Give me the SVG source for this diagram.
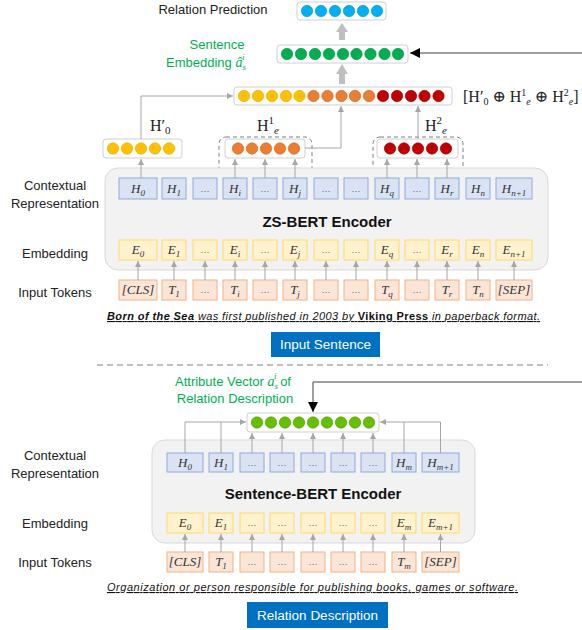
<svg xmlns="http://www.w3.org/2000/svg" width="582" height="630" viewBox="0 0 582 630">
<defs>
<style>
.lbl{font-family:"Liberation Sans",Arial,sans-serif;font-size:13px;fill:#222;text-anchor:middle}
.grn{fill:#00B050}
.enc{font-family:"Liberation Sans",Arial,sans-serif;font-size:15px;font-weight:bold;fill:#111;text-anchor:middle}
.m{font-family:"Liberation Serif","DejaVu Serif",serif;font-style:italic;font-size:13px;fill:#333;text-anchor:middle}
.s{font-size:9px}
.d{font-style:normal;font-size:9px}
.hm{font-family:"Liberation Serif","DejaVu Serif",serif;font-size:16px;fill:#222}
.hb{fill:#DAE3F3;stroke:#8FAADC;stroke-width:1}
.eb{fill:#FFF2CC;stroke:#FFD966;stroke-width:1}
.tb{fill:#FBE5D6;stroke:#F4B183;stroke-width:1}
.bg{fill:#F2F2F2;stroke:#D9D9D9;stroke-width:1}
.bar{fill:#fff;stroke:#D0D0D0;stroke-width:1}
.yl{fill:#FFC000;stroke:#E6A800;stroke-width:.6}
.or{fill:#ED7D31;stroke:#C9631C;stroke-width:.6}
.rd{fill:#C00000;stroke:#990000;stroke-width:.6}
.gr{fill:#00B050;stroke:#008C3E;stroke-width:.6}
.bl{fill:#00B0F0;stroke:#0090C8;stroke-width:.6}
.lg{fill:#66C000;stroke:#4C9400;stroke-width:.6}
.ar{stroke:#A6A6A6;stroke-width:1;fill:none;marker-end:url(#ga)}
.ln{stroke:#A6A6A6;stroke-width:1;fill:none}
.bk{stroke:#404040;stroke-width:1;fill:none;marker-end:url(#ba)}
.dash{fill:none;stroke:#808080;stroke-width:1;stroke-dasharray:4 3}
.btn{fill:#0070C0}
.bt{font-family:"Liberation Sans",Arial,sans-serif;font-size:13.5px;fill:#fff;text-anchor:middle}
.sent{font-family:"Liberation Sans",Arial,sans-serif;font-size:11px;font-style:italic;fill:#111;text-anchor:middle;text-decoration:underline}
.blk{fill:#BFBFBF}
</style>
<marker id="ga" markerWidth="6" markerHeight="6" refX="6" refY="3" orient="auto" markerUnits="userSpaceOnUse"><path d="M0,0 L6,3 L0,6 z" fill="#A6A6A6"/></marker>
<marker id="ba" markerWidth="10" markerHeight="10" refX="10" refY="5" orient="auto" markerUnits="userSpaceOnUse"><path d="M0,0 L10,5 L0,10 z" fill="#000"/></marker>
</defs>
<rect width="582" height="630" fill="#fff"/>

<!-- Side labels -->
<g id="labels">
<text class="lbl" x="213" y="14">Relation Prediction</text>
<text class="lbl grn" x="217" y="49">Sentence</text>
<text class="lbl grn" x="206" y="67">Embedding <tspan font-family="Liberation Serif,serif" font-style="italic" font-size="14">â</tspan><tspan font-family="Liberation Serif,serif" font-style="italic" font-size="9" dy="3">s</tspan><tspan font-family="Liberation Serif,serif" font-style="italic" font-size="9" dx="-4" dy="-10">i</tspan></text>
<text class="lbl" x="55" y="190">Contextual</text>
<text class="lbl" x="55" y="208">Representation</text>
<text class="lbl" x="55" y="258">Embedding</text>
<text class="lbl" x="55" y="297">Input Tokens</text>
<text class="lbl" x="55" y="460">Contextual</text>
<text class="lbl" x="55" y="478">Representation</text>
<text class="lbl" x="55" y="528">Embedding</text>
<text class="lbl" x="55" y="567">Input Tokens</text>
<text class="lbl grn" x="233" y="386">Attribute Vector <tspan font-family="Liberation Serif,serif" font-style="italic" font-size="14">a</tspan><tspan font-family="Liberation Serif,serif" font-style="italic" font-size="9" dy="3">s</tspan><tspan font-family="Liberation Serif,serif" font-style="italic" font-size="9" dx="-4" dy="-10">i</tspan><tspan dy="7"> of</tspan></text>
<text class="lbl grn" x="235" y="403">Relation Description</text>
<text class="hm" x="150" y="131">H′<tspan font-size="11" dy="3">0</tspan></text>
<text class="hm" x="257" y="131">H<tspan font-size="11" dy="-7">1</tspan><tspan font-size="11" font-style="italic" dy="10">e</tspan></text>
<text class="hm" x="425" y="131">H<tspan font-size="11" dy="-7">2</tspan><tspan font-size="11" font-style="italic" dy="10">e</tspan></text>
<text class="hm" x="463" y="102" font-size="15">[H′<tspan font-size="10" dy="3">0</tspan><tspan dy="-3"> ⊕ H</tspan><tspan font-size="10" dy="-6">1</tspan><tspan font-size="10" font-style="italic" dy="9">e</tspan><tspan dy="-3"> ⊕ H</tspan><tspan font-size="10" dy="-6">2</tspan><tspan font-size="10" font-style="italic" dy="9">e</tspan><tspan dy="-3">]</tspan></text>
</g>

<!-- Top output bars -->
<g id="relation-prediction">
<rect class="bar" x="297" y="2" width="89" height="18" rx="3"/>
<circle class="bl" cx="307" cy="11" r="5.7"/><circle class="bl" cx="321" cy="11" r="5.7"/><circle class="bl" cx="335" cy="11" r="5.7"/><circle class="bl" cx="349" cy="11" r="5.7"/><circle class="bl" cx="363" cy="11" r="5.7"/><circle class="bl" cx="377" cy="11" r="5.7"/>
</g>
<g id="sentence-embedding">
<rect class="bar" x="277" y="45" width="131" height="18" rx="3"/>
<circle class="gr" cx="287" cy="54" r="5.7"/><circle class="gr" cx="301" cy="54" r="5.7"/><circle class="gr" cx="315" cy="54" r="5.7"/><circle class="gr" cx="329" cy="54" r="5.7"/><circle class="gr" cx="343" cy="54" r="5.7"/><circle class="gr" cx="356.5" cy="54" r="5.7"/><circle class="gr" cx="370.5" cy="54" r="5.7"/><circle class="gr" cx="384.5" cy="54" r="5.7"/><circle class="gr" cx="398" cy="54" r="5.7"/>
</g>
<g id="concat">
<rect class="bar" x="234" y="87" width="218" height="18" rx="3"/>
<circle class="yl" cx="244" cy="96" r="5.7"/><circle class="yl" cx="258" cy="96" r="5.7"/><circle class="yl" cx="272" cy="96" r="5.7"/><circle class="yl" cx="286" cy="96" r="5.7"/><circle class="yl" cx="299.5" cy="96" r="5.7"/>
<circle class="or" cx="313.5" cy="96" r="5.7"/><circle class="or" cx="327.5" cy="96" r="5.7"/><circle class="or" cx="341.5" cy="96" r="5.7"/><circle class="or" cx="355" cy="96" r="5.7"/><circle class="or" cx="369" cy="96" r="5.7"/>
<circle class="rd" cx="383" cy="96" r="5.7"/><circle class="rd" cx="397" cy="96" r="5.7"/><circle class="rd" cx="411" cy="96" r="5.7"/><circle class="rd" cx="424.5" cy="96" r="5.7"/><circle class="rd" cx="438.5" cy="96" r="5.7"/>
</g>
<g id="h0prime">
<rect class="bar" x="103" y="139" width="79" height="19" rx="3"/>
<circle class="yl" cx="113" cy="148.5" r="5.7"/><circle class="yl" cx="127" cy="148.5" r="5.7"/><circle class="yl" cx="141" cy="148.5" r="5.7"/><circle class="yl" cx="155" cy="148.5" r="5.7"/><circle class="yl" cx="169" cy="148.5" r="5.7"/>
</g>
<g id="he1">
<rect class="dash" x="219" y="137" width="93" height="65" rx="7"/>
<rect class="bar" x="225" y="139" width="80" height="19" rx="3"/>
<circle class="or" cx="238" cy="148.5" r="5.7"/><circle class="or" cx="252" cy="148.5" r="5.7"/><circle class="or" cx="266" cy="148.5" r="5.7"/><circle class="or" cx="280" cy="148.5" r="5.7"/><circle class="or" cx="294" cy="148.5" r="5.7"/>
</g>
<g id="he2">
<rect class="dash" x="373" y="137" width="90" height="65" rx="7"/>
<rect class="bar" x="377" y="139" width="81" height="19" rx="3"/>
<circle class="rd" cx="390" cy="148.5" r="5.7"/><circle class="rd" cx="404" cy="148.5" r="5.7"/><circle class="rd" cx="418" cy="148.5" r="5.7"/><circle class="rd" cx="432" cy="148.5" r="5.7"/><circle class="rd" cx="446" cy="148.5" r="5.7"/>
</g>

<!-- ZS-BERT encoder -->
<g id="zs-bert">
<rect class="bg" x="105" y="168" width="443" height="102" rx="13"/>
<text class="enc" x="327" y="227">ZS-BERT Encoder</text>
<rect class="hb" x="119" y="178" width="38" height="21"/><text class="m" x="138" y="193">H<tspan class="s" dy="3">0</tspan></text>
<rect class="hb" x="162" y="178" width="24" height="21"/><text class="m" x="174" y="193">H<tspan class="s" dy="3">1</tspan></text>
<rect class="hb" x="193" y="178" width="24" height="21"/><text class="m d" x="205" y="192">…</text>
<rect class="hb" x="223" y="178" width="24" height="21"/><text class="m" x="235" y="193">H<tspan class="s" dy="3">i</tspan></text>
<rect class="hb" x="253" y="178" width="24" height="21"/><text class="m d" x="265" y="192">…</text>
<rect class="hb" x="283" y="178" width="24" height="21"/><text class="m" x="295" y="193">H<tspan class="s" dy="3">j</tspan></text>
<rect class="hb" x="314" y="178" width="24" height="21"/><text class="m d" x="326" y="192">…</text>
<rect class="hb" x="344" y="178" width="24" height="21"/><text class="m d" x="356" y="192">…</text>
<rect class="hb" x="375" y="178" width="24" height="21"/><text class="m" x="387" y="193">H<tspan class="s" dy="3">q</tspan></text>
<rect class="hb" x="405" y="178" width="24" height="21"/><text class="m d" x="417" y="192">…</text>
<rect class="hb" x="435" y="178" width="24" height="21"/><text class="m" x="447" y="193">H<tspan class="s" dy="3">r</tspan></text>
<rect class="hb" x="466" y="178" width="24" height="21"/><text class="m" x="478" y="193">H<tspan class="s" dy="3">n</tspan></text>
<rect class="hb" x="496" y="178" width="36" height="21"/><text class="m" x="514" y="193">H<tspan class="s" dy="3">n+1</tspan></text>

<rect class="eb" x="119" y="240" width="38" height="20"/><text class="m" x="138" y="254">E<tspan class="s" dy="3">0</tspan></text>
<rect class="eb" x="162" y="240" width="24" height="20"/><text class="m" x="174" y="254">E<tspan class="s" dy="3">1</tspan></text>
<rect class="eb" x="193" y="240" width="24" height="20"/><text class="m d" x="205" y="253">…</text>
<rect class="eb" x="223" y="240" width="24" height="20"/><text class="m" x="235" y="254">E<tspan class="s" dy="3">i</tspan></text>
<rect class="eb" x="253" y="240" width="24" height="20"/><text class="m d" x="265" y="253">…</text>
<rect class="eb" x="283" y="240" width="24" height="20"/><text class="m" x="295" y="254">E<tspan class="s" dy="3">j</tspan></text>
<rect class="eb" x="314" y="240" width="24" height="20"/><text class="m d" x="326" y="253">…</text>
<rect class="eb" x="344" y="240" width="24" height="20"/><text class="m d" x="356" y="253">…</text>
<rect class="eb" x="375" y="240" width="24" height="20"/><text class="m" x="387" y="254">E<tspan class="s" dy="3">q</tspan></text>
<rect class="eb" x="405" y="240" width="24" height="20"/><text class="m d" x="417" y="253">…</text>
<rect class="eb" x="435" y="240" width="24" height="20"/><text class="m" x="447" y="254">E<tspan class="s" dy="3">r</tspan></text>
<rect class="eb" x="466" y="240" width="24" height="20"/><text class="m" x="478" y="254">E<tspan class="s" dy="3">n</tspan></text>
<rect class="eb" x="496" y="240" width="36" height="20"/><text class="m" x="514" y="254">E<tspan class="s" dy="3">n+1</tspan></text>
</g>

<g id="input-tokens-top">
<rect class="tb" x="119" y="280" width="38" height="20"/><text class="m" x="138" y="294">[CLS]</text>
<rect class="tb" x="162" y="280" width="24" height="20"/><text class="m" x="174" y="294">T<tspan class="s" dy="3">1</tspan></text>
<rect class="tb" x="193" y="280" width="24" height="20"/><text class="m d" x="205" y="293">…</text>
<rect class="tb" x="223" y="280" width="24" height="20"/><text class="m" x="235" y="294">T<tspan class="s" dy="3">i</tspan></text>
<rect class="tb" x="253" y="280" width="24" height="20"/><text class="m d" x="265" y="293">…</text>
<rect class="tb" x="283" y="280" width="24" height="20"/><text class="m" x="295" y="294">T<tspan class="s" dy="3">j</tspan></text>
<rect class="tb" x="314" y="280" width="24" height="20"/><text class="m d" x="326" y="293">…</text>
<rect class="tb" x="344" y="280" width="24" height="20"/><text class="m d" x="356" y="293">…</text>
<rect class="tb" x="375" y="280" width="24" height="20"/><text class="m" x="387" y="294">T<tspan class="s" dy="3">q</tspan></text>
<rect class="tb" x="405" y="280" width="24" height="20"/><text class="m d" x="417" y="293">…</text>
<rect class="tb" x="435" y="280" width="24" height="20"/><text class="m" x="447" y="294">T<tspan class="s" dy="3">r</tspan></text>
<rect class="tb" x="466" y="280" width="24" height="20"/><text class="m" x="478" y="294">T<tspan class="s" dy="3">n</tspan></text>
<rect class="tb" x="496" y="280" width="36" height="20"/><text class="m" x="514" y="294">[SEP]</text>
</g>

<g id="input-sentence">
<text class="sent" x="323.5" y="320" textLength="433" lengthAdjust="spacing"><tspan font-weight="bold">Born of the Sea</tspan> was first published in 2003 by <tspan font-weight="bold" font-style="normal">Viking Press</tspan> in paperback format.</text>
<rect class="btn" x="271" y="332" width="109" height="25"/>
<text class="bt" x="325.5" y="349">Input Sentence</text>
</g>

<line x1="97" y1="365" x2="548" y2="365" stroke="#808080" stroke-width="1.2" stroke-dasharray="6 4"/>

<!-- Sentence-BERT -->
<g id="attribute-vector">
<rect class="bar" x="247" y="413" width="132" height="19" rx="3"/>
<circle class="lg" cx="257" cy="422.5" r="5.7"/><circle class="lg" cx="271" cy="422.5" r="5.7"/><circle class="lg" cx="285" cy="422.5" r="5.7"/><circle class="lg" cx="299" cy="422.5" r="5.7"/><circle class="lg" cx="313" cy="422.5" r="5.7"/><circle class="lg" cx="327" cy="422.5" r="5.7"/><circle class="lg" cx="341" cy="422.5" r="5.7"/><circle class="lg" cx="355" cy="422.5" r="5.7"/><circle class="lg" cx="369" cy="422.5" r="5.7"/>
</g>
<g id="sentence-bert">
<rect class="bg" x="152" y="440" width="323" height="103" rx="13"/>
<text class="enc" x="313" y="499">Sentence-BERT Encoder</text>
<rect class="hb" x="167" y="453" width="36" height="19"/><text class="m" x="185" y="467">H<tspan class="s" dy="3">0</tspan></text>
<rect class="hb" x="209" y="453" width="24" height="19"/><text class="m" x="221" y="467">H<tspan class="s" dy="3">1</tspan></text>
<rect class="hb" x="240" y="453" width="24" height="19"/><text class="m d" x="252" y="466">…</text>
<rect class="hb" x="270" y="453" width="24" height="19"/><text class="m d" x="282" y="466">…</text>
<rect class="hb" x="301" y="453" width="24" height="19"/><text class="m d" x="313" y="466">…</text>
<rect class="hb" x="331" y="453" width="24" height="19"/><text class="m d" x="343" y="466">…</text>
<rect class="hb" x="361" y="453" width="24" height="19"/><text class="m d" x="373" y="466">…</text>
<rect class="hb" x="392" y="453" width="24" height="19"/><text class="m" x="404" y="467">H<tspan class="s" dy="3">m</tspan></text>
<rect class="hb" x="422" y="453" width="37" height="19"/><text class="m" x="440.5" y="467">H<tspan class="s" dy="3">m+1</tspan></text>

<rect class="eb" x="167" y="513" width="36" height="20"/><text class="m" x="185" y="527">E<tspan class="s" dy="3">0</tspan></text>
<rect class="eb" x="209" y="513" width="24" height="20"/><text class="m" x="221" y="527">E<tspan class="s" dy="3">1</tspan></text>
<rect class="eb" x="240" y="513" width="24" height="20"/><text class="m d" x="252" y="526">…</text>
<rect class="eb" x="270" y="513" width="24" height="20"/><text class="m d" x="282" y="526">…</text>
<rect class="eb" x="301" y="513" width="24" height="20"/><text class="m d" x="313" y="526">…</text>
<rect class="eb" x="331" y="513" width="24" height="20"/><text class="m d" x="343" y="526">…</text>
<rect class="eb" x="361" y="513" width="24" height="20"/><text class="m d" x="373" y="526">…</text>
<rect class="eb" x="392" y="513" width="24" height="20"/><text class="m" x="404" y="527">E<tspan class="s" dy="3">m</tspan></text>
<rect class="eb" x="422" y="513" width="37" height="20"/><text class="m" x="440.5" y="527">E<tspan class="s" dy="3">m+1</tspan></text>
</g>
<g id="input-tokens-bottom">
<rect class="tb" x="167" y="552" width="36" height="20"/><text class="m" x="185" y="566">[CLS]</text>
<rect class="tb" x="209" y="552" width="24" height="20"/><text class="m" x="221" y="566">T<tspan class="s" dy="3">1</tspan></text>
<rect class="tb" x="240" y="552" width="24" height="20"/><text class="m d" x="252" y="565">…</text>
<rect class="tb" x="270" y="552" width="24" height="20"/><text class="m d" x="282" y="565">…</text>
<rect class="tb" x="301" y="552" width="24" height="20"/><text class="m d" x="313" y="565">…</text>
<rect class="tb" x="331" y="552" width="24" height="20"/><text class="m d" x="343" y="565">…</text>
<rect class="tb" x="361" y="552" width="24" height="20"/><text class="m d" x="373" y="565">…</text>
<rect class="tb" x="392" y="552" width="24" height="20"/><text class="m" x="404" y="566">T<tspan class="s" dy="3">m</tspan></text>
<rect class="tb" x="422" y="552" width="37" height="20"/><text class="m" x="440.5" y="566">[SEP]</text>
</g>
<g id="relation-description">
<text class="sent" x="312.5" y="591" textLength="411" lengthAdjust="spacing">Organization or person responsible for publishing books, games or software.</text>
<rect class="btn" x="247" y="602" width="141" height="26"/>
<text class="bt" x="317.5" y="620">Relation Description</text>
</g>

<!-- Connectors -->
<g id="connectors">
<polygon class="blk" points="339,40 339,32 336,32 342,23 348,32 345,32 345,40"/>
<polygon class="blk" points="339,84 339,74 336,74 342,64 348,74 345,74 345,84"/>
<line class="bk" x1="582" y1="53" x2="410" y2="53"/>
<polyline class="ar" points="141,139 141,96 233,96"/>
<polyline class="ar" points="305,148 341,148 341,106"/>
<line class="ar" x1="418" y1="139" x2="418" y2="106"/>
<line class="ar" x1="141" y1="178" x2="141" y2="159"/>
<line class="ar" x1="235" y1="178" x2="235" y2="159"/>
<line class="ar" x1="265" y1="178" x2="265" y2="159"/>
<line class="ar" x1="295" y1="178" x2="295" y2="159"/>
<line class="ar" x1="387" y1="178" x2="387" y2="159"/>
<line class="ar" x1="417" y1="178" x2="417" y2="159"/>
<line class="ar" x1="447" y1="178" x2="447" y2="159"/>
<line class="ar" x1="138" y1="280" x2="138" y2="261"/>
<line class="ar" x1="174" y1="280" x2="174" y2="261"/>
<line class="ar" x1="205" y1="280" x2="205" y2="261"/>
<line class="ar" x1="235" y1="280" x2="235" y2="261"/>
<line class="ar" x1="265" y1="280" x2="265" y2="261"/>
<line class="ar" x1="295" y1="280" x2="295" y2="261"/>
<line class="ar" x1="326" y1="280" x2="326" y2="261"/>
<line class="ar" x1="356" y1="280" x2="356" y2="261"/>
<line class="ar" x1="387" y1="280" x2="387" y2="261"/>
<line class="ar" x1="417" y1="280" x2="417" y2="261"/>
<line class="ar" x1="447" y1="280" x2="447" y2="261"/>
<line class="ar" x1="478" y1="280" x2="478" y2="261"/>
<line class="ar" x1="514" y1="280" x2="514" y2="261"/>

<polyline class="bk" points="582,382 313,382 313,412"/>
<polyline class="ar" points="185,453 185,422 246,422"/>
<line class="ln" x1="221" y1="453" x2="221" y2="422"/>
<polyline class="ar" points="440.5,453 440.5,422 380,422"/>
<line class="ln" x1="404" y1="453" x2="404" y2="422"/>
<line class="ar" x1="252" y1="453" x2="252" y2="433"/>
<line class="ar" x1="282" y1="453" x2="282" y2="433"/>
<line class="ar" x1="313" y1="453" x2="313" y2="433"/>
<line class="ar" x1="343" y1="453" x2="343" y2="433"/>
<line class="ar" x1="373" y1="453" x2="373" y2="433"/>
<line class="ar" x1="185" y1="552" x2="185" y2="534"/>
<line class="ar" x1="221" y1="552" x2="221" y2="534"/>
<line class="ar" x1="252" y1="552" x2="252" y2="534"/>
<line class="ar" x1="282" y1="552" x2="282" y2="534"/>
<line class="ar" x1="313" y1="552" x2="313" y2="534"/>
<line class="ar" x1="343" y1="552" x2="343" y2="534"/>
<line class="ar" x1="373" y1="552" x2="373" y2="534"/>
<line class="ar" x1="404" y1="552" x2="404" y2="534"/>
<line class="ar" x1="440.5" y1="552" x2="440.5" y2="534"/>
</g>
</svg>
